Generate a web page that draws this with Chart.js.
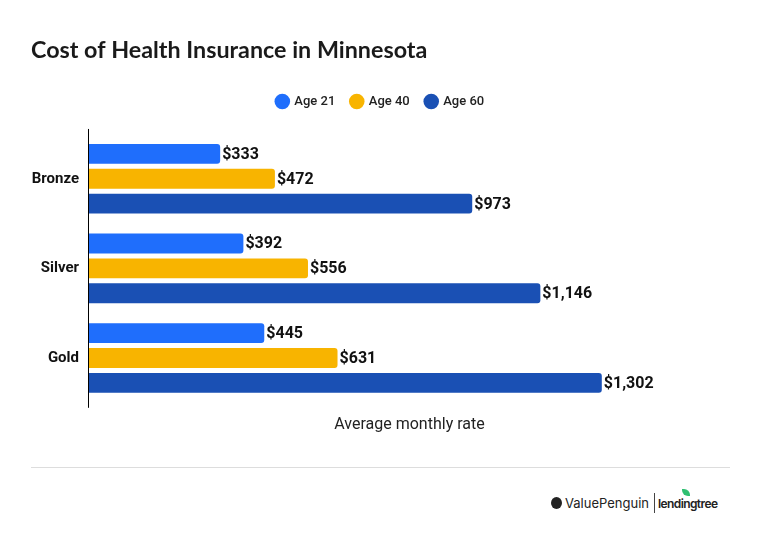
<!DOCTYPE html>
<html lang="en">
<head>
<meta charset="UTF-8">
<title>Cost of Health Insurance in Minnesota</title>
<script src="https://cdn.jsdelivr.net/npm/chart.js"></script>
<style>
    body {
        margin: 0;
        background: #fff;
        font-family: Roboto, Arial, sans-serif;
    }
    #wrap {
        width: 760px;
        height: 535px;
        position: relative;
    }
    #chartBox {
        width: 760px;
        height: 445px;
    }
    #rule {
        position: absolute;
        left: 31px;
        top: 467px;
        width: 699px;
        border-top: 1px solid #ddd;
    }
    #logo {
        position: absolute;
        left: 551px;
        top: 493px;
        font-family: Inter, "Noto Sans", sans-serif;
        font-size: 13px;
        color: #222;
        display: flex;
        align-items: center;
    }
    #logo .peng {
        width: 11px;
        height: 12px;
        border-radius: 50%;
        background: #222;
        margin-right: 3px;
    }
    #logo .sep {
        border-left: 1px solid #444;
        height: 20px;
        margin: 0 3px 0 5px;
    }
    #logo .lt {
        position: relative;
        font-size: 12px;
        font-weight: 600;
        letter-spacing: -0.6px;
    }
    #logo .leaf {
        position: absolute;
        left: 24px;
        top: -7px;
        width: 8px;
        height: 7px;
        background: #2fbf71;
        border-radius: 0 6px 0 6px;
    }
</style>
</head>
<body>
<div id="wrap">
    <div id="chartBox"><canvas id="costChart"></canvas></div>
    <div id="rule"></div>
    <div id="logo"><span class="peng"></span>ValuePenguin<span class="sep"></span><span class="lt"><span class="leaf"></span>lendingtree</span></div>
</div>

<script>
    const tiers = ['Bronze', 'Silver', 'Gold'];
    const age21 = [333, 392, 445];
    const age40 = [472, 556, 631];
    const age60 = [973, 1146, 1302];

    const maxVal = Math.max(...age21, ...age40, ...age60) * 1.25;

    // value labels at the end of each bar
    const barLabels = {
        id: 'barLabels',
        afterDatasetsDraw(chart) {
            const ctx = chart.ctx;
            ctx.save();
            ctx.font = 'bold 16px Roboto';
            ctx.fillStyle = '#111';
            ctx.textAlign = 'left';
            ctx.textBaseline = 'middle';
            chart.data.datasets.forEach((ds, i) => {
                chart.getDatasetMeta(i).data.forEach((bar, j) => {
                    ctx.fillText('$' + ds.data[j].toLocaleString('en-US'), bar.x + 2, bar.y + 1);
                });
            });
            ctx.restore();
        }
    };

    // y axis line runs a little past the bars at both ends
    const axisLine = {
        id: 'axisLine',
        afterDatasetsDraw(chart) {
            const a = chart.chartArea;
            const ctx = chart.ctx;
            ctx.save();
            ctx.strokeStyle = '#000';
            ctx.lineWidth = 1;
            ctx.beginPath();
            ctx.moveTo(a.left - 0.5, a.top - 5);
            ctx.lineTo(a.left - 0.5, a.bottom + 5);
            ctx.stroke();
            ctx.restore();
        }
    };

    // extra space under the legend
    const legendGap = {
        id: 'legendGap',
        beforeInit(chart) {
            const fit = chart.legend.fit;
            chart.legend.fit = function () {
                fit.bind(chart.legend)();
                this.height += 16;
            };
        }
    };

    new Chart(document.getElementById('costChart'), {
        type: 'bar',
        data: {
            labels: tiers,
            datasets: [
                { label: 'Age 21', data: age21, backgroundColor: '#1f6efc' },
                { label: 'Age 40', data: age40, backgroundColor: '#f8b400' },
                { label: 'Age 60', data: age60, backgroundColor: '#1a50b4' }
            ]
        },
        options: {
            indexAxis: 'y',
            responsive: true,
            maintainAspectRatio: false,
            animation: false,
            layout: { padding: { top: 36, left: 31, right: 30, bottom: 10 } },
            datasets: {
                bar: {
                    categoryPercentage: 0.833,
                    barPercentage: 0.8,
                    borderRadius: { topRight: 3, bottomRight: 3 },
                    borderSkipped: 'start'
                }
            },
            scales: {
                x: {
                    min: 0,
                    max: maxVal,
                    grid: { display: false },
                    border: { display: false },
                    ticks: { display: false },
                    title: {
                        display: true,
                        text: 'Average monthly rate',
                        color: '#222',
                        font: { family: 'Roboto', size: 16 },
                        padding: { top: 5, bottom: 0 }
                    }
                },
                y: {
                    afterFit(scale) { scale.width = 58; },
                    grid: { display: false, drawTicks: false },
                    border: { display: false },
                    ticks: {
                        color: '#111',
                        padding: 10,
                        font: { family: 'Roboto', size: 15, weight: 'bold' }
                    }
                }
            },
            plugins: {
                title: {
                    display: true,
                    text: 'Cost of Health Insurance in Minnesota',
                    align: 'start',
                    color: '#1a1a1a',
                    font: { family: 'Lato', size: 23.3, weight: 'bold' },
                    padding: { top: 0, bottom: 15 }
                },
                legend: {
                    labels: {
                        usePointStyle: true,
                        pointStyle: 'circle',
                        boxWidth: 11,
                        boxHeight: 11,
                        color: '#222',
                        padding: 16,
                        font: { family: 'Roboto', size: 13, weight: 500 }
                    }
                },
                tooltip: { enabled: false }
            }
        },
        plugins: [barLabels, axisLine, legendGap]
    });
</script>
</body>
</html>
